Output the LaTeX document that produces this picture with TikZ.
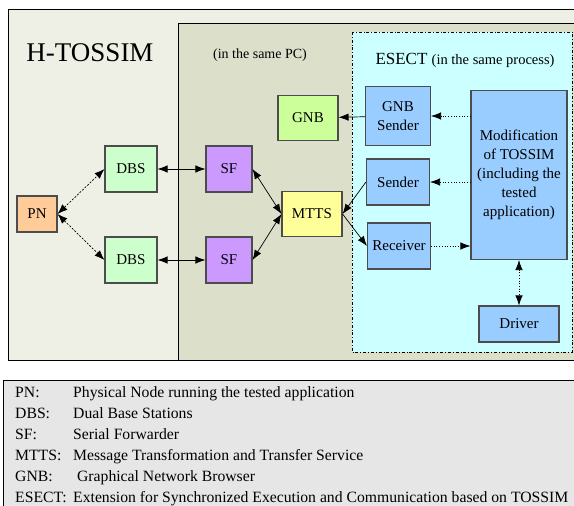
\documentclass[tikz,border=0pt]{standalone}
\usepackage{fontspec}
\setmainfont{Liberation Serif}
\usetikzlibrary{arrows.meta,positioning}
\definecolor{hostbg}{HTML}{EFF0E5}
\definecolor{pcbg}{HTML}{DCE0CB}
\definecolor{esectbg}{HTML}{CCFFFF}
\definecolor{legendbg}{HTML}{E6E6E6}
\definecolor{pncol}{HTML}{FFCC99}
\definecolor{dbscol}{HTML}{CCFFCC}
\definecolor{sfcol}{HTML}{CC99FF}
\definecolor{mttscol}{HTML}{FFFF99}
\definecolor{gnbcol}{HTML}{CCFF99}
\definecolor{modcol}{HTML}{99CCFF}

\begin{document}
\begin{tikzpicture}[x=1pt, y=-1pt,
    >={Latex[length=10pt,width=7.5pt]},
    every node/.append style={align=center, font=\fontsize{15}{19}\selectfont},
    blk/.style={draw=black!70, line width=1.1pt, inner sep=0pt},
    legtxt/.style={anchor=base west, inner sep=0pt, font=\fontsize{15.7}{17}\selectfont}]
    \tikzstyle{link}=[line width=0.7pt]

    \useasboundingbox (0,0) rectangle (574,506);

    % frames
    \draw[fill=hostbg, line width=0.8pt] (8,9) rectangle (590,360);
    \draw[fill=pcbg, line width=0.8pt] (178,23) rectangle (590,360);
    \draw[fill=esectbg, line width=0.7pt, dash dot] (352,32) rectangle (572,352);

    \node (title) at (90,53) {\fontsize{27}{30}\selectfont H-TOSSIM};
    \node (pc) at (260,55) {\fontsize{14}{16}\selectfont (in the same PC)};
    \node (esect) at (465,60) {\fontsize{17}{19}\selectfont ESECT \fontsize{14.5}{16}\selectfont(in the same process)};

    % blocks
    \node [blk, fill=pncol, minimum width=40pt, minimum height=36pt] (PN) at (37,214) {PN};
    \node [blk, fill=dbscol, minimum width=52pt, minimum height=46pt] (DBS1) at (131,169) {DBS};
    \node [blk, fill=dbscol, minimum width=52pt, minimum height=46pt] (DBS2) at (131,260) {DBS};
    \node [blk, fill=sfcol, minimum width=46pt, minimum height=46pt] (SF1) at (229,169) {SF};
    \node [blk, fill=sfcol, minimum width=46pt, minimum height=46pt] (SF2) at (229,260) {SF};
    \node [blk, fill=mttscol, minimum width=60pt, minimum height=45pt] (MTTS) at (312,214) {MTTS};
    \node [blk, fill=gnbcol, minimum width=60pt, minimum height=45pt] (GNB) at (308,118) {GNB};
    \node [blk, fill=modcol, minimum width=65pt, minimum height=59pt] (GS) at (398,116) {GNB\\Sender};
    \node [blk, fill=modcol, minimum width=63pt, minimum height=46pt] (Snd) at (398,182) {Sender};
    \node [blk, fill=modcol, minimum width=63pt, minimum height=46pt] (Rcv) at (399,246) {Receiver};
    \node [blk, fill=modcol, minimum width=96pt, minimum height=169pt] (Mod) at (519,175)
        {Modification\\of TOSSIM\\(including the\\tested\\application)};
    \node [blk, fill=modcol, minimum width=80pt, minimum height=36pt] (Drv) at (519,324) {Driver};

    % connectors
    \path[link, <->, dash pattern=on 2pt off 1.5pt]
    (PN.east) edge (DBS1.west)
    (PN.east) edge (DBS2.west);
    \path[link, <->]
    (DBS1) edge (SF1)
    (DBS2) edge (SF2)
    (SF1.east) edge (MTTS.west)
    (SF2.east) edge (MTTS.west);
    \path[link, ->]
    (Snd.west) edge (MTTS.east)
    (MTTS.east) edge (Rcv.west)
    (GS) edge (GNB);
    \path[link, ->, dotted]
    (Mod.west |- GS) edge (GS)
    (Mod.west |- Snd) edge (Snd)
    (Rcv) edge (Mod.west |- Rcv);
    \path[link, <->, dotted] (Mod) edge (Drv);

    % legend
    \draw[fill=legendbg, line width=0.8pt] (3,380) rectangle (590,520);
    \foreach \y/\abbr/\desc in {397/PN:/Physical Node running the tested application,
        418/DBS:/Dual Base Stations,
        439/SF:/Serial Forwarder,
        460/MTTS:/Message Transformation and Transfer Service,
        481/GNB:/\ Graphical Network Browser,
        502/ESECT:/Extension for Synchronized Execution and Communication based on TOSSIM} {
      \node [legtxt] (l\abbr) at (15,\y) {\abbr};
      \node [legtxt] (d\abbr) at (73,\y) {\desc};
    }
\end{tikzpicture}
\end{document}
